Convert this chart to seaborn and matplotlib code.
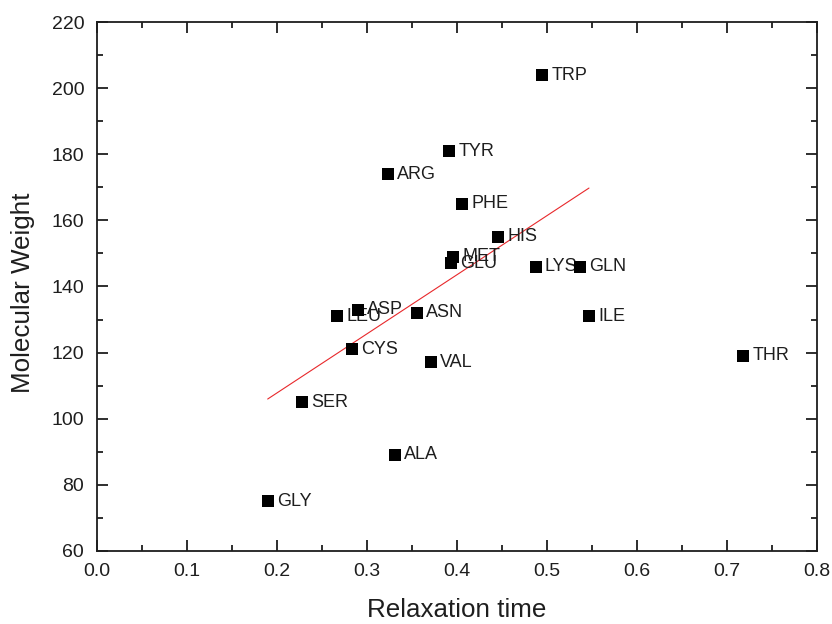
import matplotlib
matplotlib.use("Agg")
import matplotlib.pyplot as plt
from matplotlib.ticker import MultipleLocator
import numpy as np
import pandas as pd
import seaborn as sns

# Amino acids: relaxation time vs molecular weight
amino_acids = ["GLY", "ALA", "SER", "VAL", "THR", "CYS", "LEU", "ILE", "ASN", "ASP",
               "GLN", "LYS", "GLU", "MET", "HIS", "PHE", "ARG", "TYR", "TRP"]
relaxation_time = [0.190, 0.331, 0.228, 0.371, 0.7185, 0.284, 0.267, 0.547, 0.356, 0.290,
                   0.537, 0.488, 0.394, 0.396, 0.446, 0.406, 0.324, 0.392, 0.495]
molecular_weight = [75, 89, 105, 117, 119, 121, 131, 131, 132, 133,
                    146, 146, 147, 149, 155, 165, 174, 181, 204]
# THR is left out of the linear fit
excluded_from_fit = ["THR"]

x_ticks = [0.0, 0.1, 0.2, 0.3, 0.4, 0.5, 0.6, 0.7, 0.8]
y_ticks = [60, 80, 100, 120, 140, 160, 180, 200, 220]

df = pd.DataFrame({"name": amino_acids, "tau": relaxation_time, "mw": molecular_weight})
fit_df = df[~df["name"].isin(excluded_from_fit)]

sns.set_theme(style="ticks")
plt.rcParams["font.family"] = ["Liberation Sans", "DejaVu Sans"]

ink = "#1e1e1e"
fig = plt.figure(figsize=(8.32, 6.24), dpi=100)
ax = fig.add_axes([0.1162, 0.1175, 0.9816 - 0.1162, 0.9643 - 0.1175])

sns.regplot(data=fit_df, x="tau", y="mw", ax=ax, scatter=False, ci=None,
            truncate=True, line_kws={"color": "#e8282b", "lw": 0.8, "zorder": 2})
sns.scatterplot(data=df, x="tau", y="mw", ax=ax, marker="s", color="black",
                s=64, linewidth=0, zorder=4)

for name, xv, yv in zip(amino_acids, relaxation_time, molecular_weight):
    ax.annotate(name, (xv, yv), xytext=(6.5, 0), textcoords="offset points",
                ha="left", va="center", fontsize=13, color=ink, zorder=3)

ax.set_xlim(x_ticks[0], x_ticks[-1])
ax.set_ylim(y_ticks[0], y_ticks[-1])
ax.set_xticks(x_ticks)
ax.set_yticks(y_ticks)
ax.set_xticklabels([f"{t:.1f}" for t in x_ticks])
ax.set_yticklabels([str(t) for t in y_ticks])
ax.xaxis.set_minor_locator(MultipleLocator(0.05))
ax.yaxis.set_minor_locator(MultipleLocator(10))

ax.tick_params(which="both", direction="in", top=True, right=True,
               width=1.3, color=ink)
ax.tick_params(which="major", length=8, labelsize=14, pad=9, labelcolor=ink)
ax.tick_params(which="minor", length=4.5)
for sp in ax.spines.values():
    sp.set_linewidth(1.3)
    sp.set_color(ink)

ax.set_xlabel("Relaxation time", fontsize=18.7, color=ink)
ax.set_ylabel("Molecular Weight", fontsize=18.7, color=ink)
ax.xaxis.label.set_va("baseline")
ax.xaxis.set_label_coords(0.5, -0.1255)
ax.yaxis.label.set_va("center")
ax.yaxis.set_label_coords(-0.102, 0.488)

fig.savefig("out.png", dpi=100, facecolor="white")
